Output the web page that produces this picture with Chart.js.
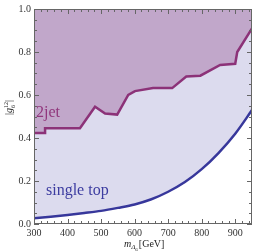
<!DOCTYPE html>
<html><head><meta charset="utf-8">
<script src="https://cdn.jsdelivr.net/npm/chart.js@4.4.1/dist/chart.umd.min.js"></script>
<style>html,body{margin:0;padding:0;background:#fff}#c{display:block}</style>
</head><body>
<canvas id="c" width="253" height="252"></canvas>
<script>
const jetMass = [300, 333, 333, 437, 482, 512, 548, 581, 601, 655, 712, 754, 796, 855, 900, 906, 950];
const jetCoupling = [0.423, 0.423, 0.445, 0.445, 0.545, 0.514, 0.509, 0.600, 0.618, 0.632, 0.632, 0.686, 0.690, 0.740, 0.745, 0.800, 0.91];
const topMass = [300, 350, 400, 450, 500, 550, 600, 650, 700, 750, 800, 850, 900, 950];
const topCoupling = [0.027, 0.034, 0.042, 0.051, 0.061, 0.075, 0.091, 0.115, 0.150, 0.195, 0.255, 0.330, 0.420, 0.530];
const xTicks = [300, 400, 500, 600, 700, 800, 900];
const yTicks = [0.0, 0.2, 0.4, 0.6, 0.8, 1.0];

const SERIF = '"Liberation Serif", "DejaVu Serif", serif';
const toPts = (xs, ys) => xs.map((x, i) => ({x, y: ys[i]}));

const decor = {
  id: 'decor',
  beforeDatasetsDraw(chart) {
    const {ctx, chartArea: a} = chart;
    ctx.save();
    ctx.fillStyle = 'rgb(220,219,238)';
    ctx.fillRect(a.left, a.top, a.right - a.left, a.bottom - a.top);
    ctx.restore();
  },
  afterDraw(chart) {
    const {ctx, chartArea: a, scales} = chart;
    const xs = scales.x, ys = scales.y;
    ctx.save();
    ctx.strokeStyle = '#666';
    ctx.lineWidth = 1;
    ctx.strokeRect(a.left + 0.5, a.top + 0.5, a.right - a.left - 1, a.bottom - a.top - 1);
    ctx.beginPath();
    for (let v = 300; v <= 950; v += 20) {
      const px = Math.round(xs.getPixelForValue(v)) + 0.5;
      const L = (v % 100 === 0) ? 5 : 3;
      ctx.moveTo(px, a.bottom); ctx.lineTo(px, a.bottom - L);
      ctx.moveTo(px, a.top); ctx.lineTo(px, a.top + L);
    }
    for (let k = 0; k <= 20; k++) {
      const v = k * 0.05;
      const py = Math.round(ys.getPixelForValue(v)) + 0.5;
      const L = (k % 4 === 0) ? 5 : 3;
      ctx.moveTo(a.left, py); ctx.lineTo(a.left + L, py);
      ctx.moveTo(a.right, py); ctx.lineTo(a.right - L, py);
    }
    ctx.stroke();

    // labels
    ctx.font = '16px ' + SERIF;
    ctx.fillStyle = 'rgb(145,55,125)';
    ctx.textBaseline = 'alphabetic';
    ctx.fillText('2jet', 36, 117);
    ctx.fillStyle = 'rgb(60,60,160)';
    ctx.fillText('single top', 46, 195);

    // x title
    ctx.fillStyle = '#222';
    let x = 124, y = 247;
    ctx.font = 'italic 10px ' + SERIF;
    ctx.fillText('m', x, y); x += ctx.measureText('m').width;
    ctx.font = 'italic 7px ' + SERIF;
    ctx.fillText('Δ', x, y + 2); x += ctx.measureText('Δ').width;
    ctx.font = '5px ' + SERIF;
    ctx.fillText('6', x, y + 3.5); x += ctx.measureText('6').width + 1;
    ctx.font = '10px ' + SERIF;
    ctx.fillText('[GeV]', x, y);

    // y title rotated
    ctx.translate(12, 106);
    ctx.rotate(-Math.PI / 2);
    ctx.textAlign = 'left';
    let tx = -9;
    ctx.font = '10px ' + SERIF;
    ctx.fillText('|', tx, 0); tx += ctx.measureText('|').width;
    ctx.font = 'italic 10px ' + SERIF;
    ctx.fillText('g', tx, 0); tx += ctx.measureText('g').width;
    ctx.font = '6px ' + SERIF;
    ctx.fillText('12', tx, -4);
    ctx.fillText('6', tx, 2.5);
    tx += ctx.measureText('12').width;
    ctx.font = '10px ' + SERIF;
    ctx.fillText('|', tx, 0);
    ctx.restore();
  }
};

new Chart(document.getElementById('c'), {
  type: 'line',
  data: {
    datasets: [
      {
        data: toPts(jetMass, jetCoupling),
        borderColor: 'rgb(140,50,120)',
        backgroundColor: 'rgb(193,167,202)',
        borderWidth: 2.5,
        pointRadius: 0,
        tension: 0,
        fill: 'end'
      },
      {
        data: toPts(topMass, topCoupling),
        borderColor: 'rgb(55,55,155)',
        backgroundColor: '#ffffff',
        borderWidth: 2.5,
        pointRadius: 0,
        cubicInterpolationMode: 'monotone',
        fill: 'start'
      }
    ]
  },
  options: {
    responsive: false,
    animation: false,
    devicePixelRatio: 1,
    layout: {padding: {top: 4, right: 1, left: 0, bottom: 0}},
    plugins: {legend: {display: false}, tooltip: {enabled: false}},
    scales: {
      x: {
        type: 'linear', min: 300, max: 950,
        grid: {display: false, drawTicks: false},
        border: {display: false},
        afterBuildTicks: s => { s.ticks = xTicks.map(v => ({value: v})); },
        afterFit: s => { s.height = 28; },
        ticks: {
          padding: 3, color: '#333', maxRotation: 0,
          font: {family: SERIF, size: 10},
          callback: v => String(v)
        }
      },
      y: {
        type: 'linear', min: 0, max: 1,
        grid: {display: false, drawTicks: false},
        border: {display: false},
        afterBuildTicks: s => { s.ticks = yTicks.map(v => ({value: v})); },
        afterFit: s => { s.width = 34; },
        ticks: {
          padding: 3, color: '#333',
          font: {family: SERIF, size: 10},
          callback: v => Number(v).toFixed(1)
        }
      }
    }
  },
  plugins: [decor]
});
</script>
</body></html>
